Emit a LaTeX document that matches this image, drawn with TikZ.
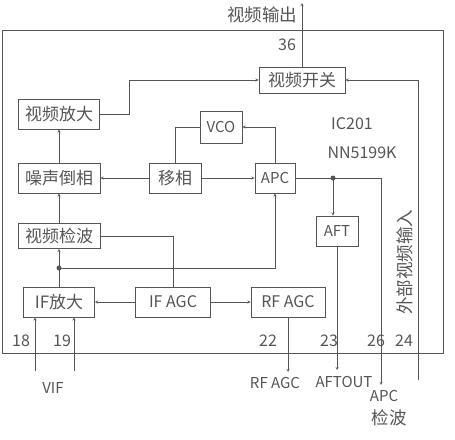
\documentclass[tikz,border=0pt]{standalone}
\usepackage{fontspec}
\setmainfont{Noto Sans CJK SC}
\usetikzlibrary{positioning}
\usepackage{xcolor}
\definecolor{ink}{RGB}{85,85,85}
\begin{document}
\begin{tikzpicture}[x=1pt,y=-1pt,>=stealth,draw=ink,text=ink,
  blk/.style={draw,thick,inner sep=0pt,minimum height=30,font=\fontsize{17}{17}\selectfont},
  pin/.style={font=\fontsize{16}{16}\selectfont},
  lbl/.style={font=\fontsize{15}{15}\selectfont},
  cjk/.style={font=\fontsize{17.5}{21}\selectfont}]
\useasboundingbox (0,0) rectangle (455,439);
% chip outline
\draw[thick] (2,30) rectangle (443,353);
\node[font=\fontsize{16}{16}\selectfont] (ic) at (352,124) {IC201};
\node[font=\fontsize{16}{16}\selectfont] (part) at (362,153) {NN5199K};
% blocks
\node[blk,minimum width=86,minimum height=26] (vsw) at (302,80) {视频开关};
\node[blk,minimum width=81] (vamp) at (59,114) {视频放大};
\node[blk,minimum width=42,minimum height=32,font=\fontsize{15}{15}\selectfont] (vco) at (221,127) {VCO};
\node[blk,minimum width=82] (noise) at (59,178) {噪声倒相};
\node[blk,minimum width=52] (shift) at (175,178) {移相};
\node[blk,minimum width=40,font=\fontsize{15}{15}\selectfont] (apc) at (275,178) {APC};
\node[blk,minimum width=42,font=\fontsize{15}{15}\selectfont] (aft) at (337,231) {AFT};
\node[blk,minimum width=82,minimum height=25] (det) at (59,236) {视频检波};
\node[blk,minimum width=71] (ifamp) at (59,302) {IF放大};
\node[blk,minimum width=75,font=\fontsize{16}{16}\selectfont] (ifagc) at (173,302) {IF AGC};
\node[blk,minimum width=74,font=\fontsize{16}{16}\selectfont] (rfagc) at (288,302) {RF AGC};
% free ends
\coordinate (out) at (302,3);
\coordinate (ext) at (418,380);
\coordinate (dotL) at (59,268);
\coordinate (dotR) at (333,178);
\coordinate (apcend) at (381,385);
\coordinate (aftend) at (340,370);
\coordinate (rfend) at (286,372);
\coordinate (vif1) at (35,371);
\coordinate (vif2) at (74,371);
% connections
\draw[->] (vsw.north) -- (out);
\draw[->] (vamp.east) -- ++(29,0) |- (vsw.west);
\draw[->] (ext) |- (vsw.east);
\draw[->] (noise.north) -- (vamp.south);
\draw[->] (shift) -- (noise);
\draw[->] (shift) -- (apc);
\draw (shift.north) |- (vco.west);
\draw[->] (apc.north) |- (vco.east);
\draw[->] (apc.east) -| (apcend);
\fill[ink] (dotR) circle(2.5);
\draw[->] (dotR) -- (dotR |- aft.north);
\draw[->] (aft.south) -- (aft.south |- aftend);
\draw[->] (det.north) -- (noise.south);
\draw (det.east) -| (ifagc.north);
\draw[->] (ifamp.north) -- (det.south);
\fill[ink] (dotL) circle(2.5);
\draw[->] (dotL) -| (apc.south);
\draw[->] (ifagc) -- (ifamp);
\draw[->] (ifagc) -- (rfagc);
\draw[->] (rfagc.south) -- (rfagc.south |- rfend);
\draw[->] (vif1) -- (vif1 |- ifamp.south);
\draw[->] (vif2) -- (vif2 |- ifamp.south);
% pins
\node[pin] (p36) at (287,45) {36};
\node[pin] (p18) at (21,341) {18};
\node[pin] (p19) at (62,341) {19};
\node[pin] (p22) at (268,341) {22};
\node[pin] (p23) at (329,341) {23};
\node[pin] (p26) at (376,341) {26};
\node[pin] (p24) at (404,341) {24};
% outer labels
\node[cjk] (vout) at (262,15) {视频输出};
\node[lbl] (vif) at (53,388) {VIF};
\node[lbl] (rfout) at (275,383) {RF AGC};
\node[lbl] (aftout) at (344,382) {AFTOUT};
\node[lbl] (apctxt) at (384,396) {APC};
\node[cjk] (apcdet) at (389,418) {检波};
\node[cjk,rotate=90] (extin) at (405,262) {外部视频输入};
\end{tikzpicture}
\end{document}
